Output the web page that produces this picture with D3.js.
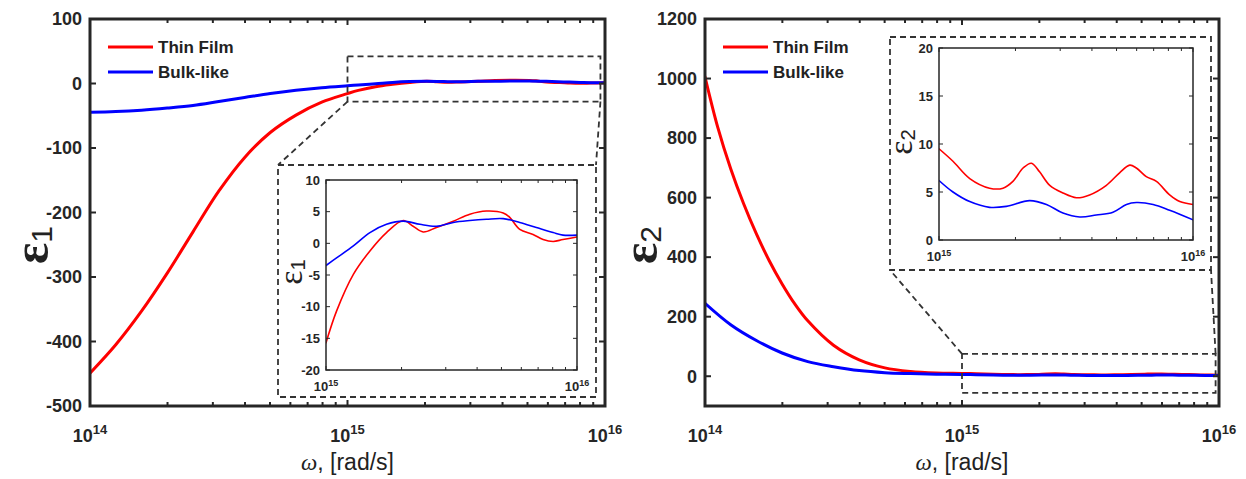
<!DOCTYPE html>
<html>
<head>
<meta charset="utf-8">
<script src="https://cdn.jsdelivr.net/npm/d3@7"></script>
<style>
  html, body { margin: 0; padding: 0; background: #fff; }
  svg { display: block; }
</style>
</head>
<body>
<svg id="chart" width="1246" height="479"></svg>
<script>
// ---------------- DATA ----------------
const seriesNames = ["Thin Film", "Bulk-like"];
const seriesColors = ["#ff0000", "#0000ff"];

// x tick exponents (omega = 10^exp, rad/s)
const mainXTickExponents = [14, 15, 16];
const insetXTickExponents = [15, 16];

// y ticks
const eps1YTicks = [-500, -400, -300, -200, -100, 0, 100];
const eps2YTicks = [0, 200, 400, 600, 800, 1000, 1200];
const eps1InsetYTicks = [-20, -15, -10, -5, 0, 5, 10];
const eps2InsetYTicks = [0, 5, 10, 15, 20];

// epsilon_1, Thin Film
const eps1ThinLogW = [14.0, 14.1, 14.2, 14.3, 14.4, 14.5, 14.6, 14.7, 14.8, 14.9,
  15.000, 15.042, 15.109, 15.175, 15.241, 15.308, 15.347, 15.387, 15.440, 15.507,
  15.573, 15.639, 15.706, 15.732, 15.772, 15.825, 15.865, 15.905, 15.944, 16.000];
const eps1ThinVals = [-449, -405, -353, -294, -230, -167, -115, -76, -49, -29,
  -15.7, -10.7, -4.9, -1.2, 1.7, 3.6, 2.7, 1.8, 2.5, 3.5,
  4.6, 5.1, 4.8, 4.1, 2.2, 1.4, 0.6, 0.3, 0.6, 1.0];

// epsilon_1, Bulk-like
const eps1BulkLogW = [14.0, 14.1, 14.2, 14.3, 14.4, 14.5, 14.6, 14.7, 14.8, 14.9,
  15.000, 15.042, 15.109, 15.175, 15.241, 15.308, 15.374, 15.440, 15.507, 15.573,
  15.639, 15.706, 15.772, 15.838, 15.905, 15.944, 16.000];
const eps1BulkVals = [-44.7, -43.5, -41.3, -38, -34, -28, -21.8, -15.5, -10.5, -6.5,
  -3.5, -2.3, -0.4, 1.7, 3.0, 3.5, 3.0, 2.7, 3.3, 3.6,
  3.8, 3.9, 3.3, 2.5, 1.7, 1.3, 1.3];

// epsilon_2, Thin Film
const eps2ThinLogW = [14.0, 14.05, 14.1, 14.15, 14.2, 14.25, 14.3, 14.35, 14.4, 14.5,
  14.6, 14.7, 14.8, 14.9,
  15.000, 15.055, 15.121, 15.199, 15.252, 15.291, 15.331, 15.364, 15.396, 15.436,
  15.488, 15.541, 15.593, 15.659, 15.711, 15.751, 15.777, 15.816, 15.856, 15.908,
  15.948, 16.000];
const eps2ThinVals = [1006, 835, 697, 580, 478, 388, 310, 242, 186, 104,
  55, 28, 16, 11,
  9.5, 8.2, 6.4, 5.4, 5.4, 6.1, 7.5, 8.0, 7.1, 5.7,
  4.9, 4.4, 4.7, 5.7, 7.0, 7.8, 7.5, 6.6, 6.1, 4.7,
  4.0, 3.7];

// epsilon_2, Bulk-like
const eps2BulkLogW = [14.0, 14.1, 14.2, 14.3, 14.4, 14.5, 14.6, 14.7, 14.8, 14.9,
  15.000, 15.055, 15.121, 15.199, 15.265, 15.357, 15.423, 15.488, 15.554, 15.619,
  15.685, 15.738, 15.777, 15.843, 15.908, 16.000];
const eps2BulkVals = [245, 173, 120, 78, 49, 32, 19, 12, 9, 7,
  6.2, 5.0, 4.0, 3.4, 3.5, 4.1, 3.7, 2.8, 2.4, 2.6,
  2.9, 3.7, 3.9, 3.7, 3.1, 2.1];

// ---------------- HELPERS ----------------
const svg = d3.select("#chart");
const AX = "#262626";
const SANS = "'Liberation Sans', Arial, Helvetica, sans-serif";
const SERIF = "'Liberation Serif', 'Times New Roman', serif";

function toPoints(logW, vals) {
  return logW.map((e, i) => ({ w: Math.pow(10, e), v: vals[i] }));
}
const isMajor = t => Math.abs(Math.log10(t) - Math.round(Math.log10(t))) < 1e-9;

let clipId = 0;
function drawAxes(g, x, y, yTicks, xExps, o) {
  const [x0, x1] = x.range();
  const [y1, y0] = y.range();
  const tk = g.append("g").attr("stroke", AX).attr("stroke-width", o.tickW);
  x.ticks().forEach(t => {
    const len = isMajor(t) ? o.majLen : o.minLen;
    const px = x(t);
    tk.append("line").attr("x1", px).attr("x2", px).attr("y1", y1).attr("y2", y1 - len);
    tk.append("line").attr("x1", px).attr("x2", px).attr("y1", y0).attr("y2", y0 + len);
  });
  yTicks.forEach(t => {
    const py = y(t);
    tk.append("line").attr("x1", x0).attr("x2", x0 + o.majLen).attr("y1", py).attr("y2", py);
    tk.append("line").attr("x1", x1).attr("x2", x1 - o.majLen).attr("y1", py).attr("y2", py);
  });
  g.append("rect").attr("x", x0).attr("y", y0).attr("width", x1 - x0).attr("height", y1 - y0)
    .attr("fill", "none").attr("stroke", AX).attr("stroke-width", o.frameW);
  yTicks.forEach(t => {
    g.append("text").attr("x", x0 - o.yLabGap).attr("y", y(t)).attr("dy", "0.35em")
      .attr("text-anchor", "end").attr("font-family", SANS).attr("font-weight", "bold")
      .attr("font-size", o.fs).attr("fill", AX).text(t);
  });
  xExps.forEach(e => {
    const t = g.append("text").attr("x", x(Math.pow(10, e))).attr("y", y1 + o.xLabGap)
      .attr("text-anchor", "middle").attr("font-family", SANS).attr("font-weight", "bold")
      .attr("font-size", o.fs).attr("fill", AX);
    t.append("tspan").text("10");
    t.append("tspan").attr("font-size", o.fsSup).attr("dy", -o.supShift).text(e);
  });
}

function drawCurves(g, x, y, data, width) {
  const [x0, x1] = x.range();
  const [y1, y0] = y.range();
  const id = "clip" + (clipId++);
  g.append("clipPath").attr("id", id).append("rect")
    .attr("x", x0).attr("y", y0).attr("width", x1 - x0).attr("height", y1 - y0);
  const line = d3.line().x(d => x(d.w)).y(d => y(d.v)).curve(d3.curveCatmullRom.alpha(0.5));
  const cg = g.append("g").attr("clip-path", `url(#${id})`);
  data.forEach((pts, i) => {
    cg.append("path").attr("d", line(pts)).attr("fill", "none")
      .attr("stroke", seriesColors[i]).attr("stroke-width", width)
      .attr("stroke-linejoin", "round").attr("stroke-linecap", "round");
  });
}

function epsLabel(g, cx, cy, sub, fs, bold) {
  const t = g.append("text").attr("transform", `translate(${cx},${cy}) rotate(-90)`)
    .attr("text-anchor", "middle").attr("font-family", SERIF).attr("fill", "#222")
    .attr("font-size", fs);
  t.append("tspan").attr("font-weight", bold ? "bold" : "normal").text("ε");
  t.append("tspan").attr("font-size", fs * 0.6).attr("font-family", SANS)
    .attr("dy", fs * 0.08).text(sub);
}

function drawPanel(cfg) {
  const g = svg.append("g");
  const x = d3.scaleLog().domain([1e14, 1e16]).range([cfg.x0, cfg.x1]);
  const y = d3.scaleLinear().domain(cfg.yDomain).range([cfg.y1, cfg.y0]);
  const full = cfg.series.map(s => toPoints(s[0], s[1]));

  drawCurves(g, x, y, full, 3);
  drawAxes(g, x, y, cfg.yTicks, mainXTickExponents,
    { tickW: 2, majLen: 6, minLen: 4, frameW: 3, fs: 18, fsSup: 13, supShift: 8, yLabGap: 8, xLabGap: 36 });

  const xl = g.append("text").attr("x", (cfg.x0 + cfg.x1) / 2).attr("y", 470)
    .attr("text-anchor", "middle").attr("font-size", 23).attr("fill", "#222")
    .attr("font-family", SANS);
  xl.append("tspan").attr("font-family", SERIF).attr("font-style", "italic").text("ω");
  xl.append("tspan").text(", [rad/s]");

  epsLabel(g, cfg.yLabX, cfg.yLabY, cfg.sub, 50, true);

  seriesNames.forEach((n, i) => {
    const ly = 47 + i * 25;
    g.append("line").attr("x1", cfg.x0 + 18).attr("x2", cfg.x0 + 63).attr("y1", ly).attr("y2", ly)
      .attr("stroke", seriesColors[i]).attr("stroke-width", 3);
    g.append("text").attr("x", cfg.x0 + 68).attr("y", ly).attr("dy", "0.36em")
      .attr("font-family", SANS).attr("font-weight", "bold").attr("font-size", 17)
      .attr("fill", "#222").text(n);
  });

  const zr = cfg.zoomRect;
  const rx0 = x(zr.w[0]), rx1 = x(zr.w[1]), ry0 = y(zr.v[1]), ry1 = y(zr.v[0]);
  const dash = { stroke: "#333", "stroke-width": 1.8, "stroke-dasharray": "6,4", fill: "none" };
  const applyDash = sel => { Object.entries(dash).forEach(([k, v]) => sel.attr(k, v)); return sel; };
  applyDash(g.append("rect").attr("x", rx0).attr("y", ry0).attr("width", rx1 - rx0).attr("height", ry1 - ry0));

  const ib = cfg.insetOuter;
  const ig = g.append("g");
  ig.append("rect").attr("x", ib.x0).attr("y", ib.y0).attr("width", ib.x1 - ib.x0).attr("height", ib.y1 - ib.y0)
    .attr("fill", "#fff");
  applyDash(ig.append("rect").attr("x", ib.x0).attr("y", ib.y0).attr("width", ib.x1 - ib.x0).attr("height", ib.y1 - ib.y0));

  cfg.connectors(rx0, rx1, ry0, ry1, ib).forEach(c => {
    applyDash(g.append("line").attr("x1", c[0]).attr("y1", c[1]).attr("x2", c[2]).attr("y2", c[3]));
  });

  const ia = cfg.insetAxes;
  const xi = d3.scaleLog().domain([1e15, 1e16]).range([ia.x0, ia.x1]);
  const yi = d3.scaleLinear().domain(cfg.insetYDomain).range([ia.y1, ia.y0]);
  const inset = cfg.series.map(s => toPoints(s[0], s[1]).filter(d => d.w >= 1e15 * 0.999));
  drawCurves(ig, xi, yi, inset, 1.6);
  drawAxes(ig, xi, yi, cfg.insetYTicks, insetXTickExponents,
    { tickW: 1, majLen: 4, minLen: 3, frameW: 1.5, fs: 13, fsSup: 9, supShift: 5, yLabGap: 6, xLabGap: 21 });
  epsLabel(ig, cfg.insetLabX, cfg.insetLabY, cfg.sub, 34, false);
}

// ---------------- PANELS ----------------
drawPanel({
  x0: 90, x1: 605, y0: 19, y1: 406,
  yDomain: [-500, 100], yTicks: eps1YTicks, sub: "1",
  yLabX: 48, yLabY: 245,
  series: [[eps1ThinLogW, eps1ThinVals], [eps1BulkLogW, eps1BulkVals]],
  zoomRect: { w: [1e15, 9.6e15], v: [-28, 42] },
  insetOuter: { x0: 278, x1: 596, y0: 165, y1: 397 },
  insetAxes: { x0: 326, x1: 577, y0: 180, y1: 370 },
  insetYDomain: [-20, 10], insetYTicks: eps1InsetYTicks,
  insetLabX: 302, insetLabY: 272,
  connectors: (rx0, rx1, ry0, ry1, ib) => [[rx0, ry1, ib.x0, ib.y0], [rx1, ry1, ib.x1, ib.y0]]
});

drawPanel({
  x0: 705, x1: 1219, y0: 19, y1: 406,
  yDomain: [-100, 1200], yTicks: eps2YTicks, sub: "2",
  yLabX: 657, yLabY: 245,
  series: [[eps2ThinLogW, eps2ThinVals], [eps2BulkLogW, eps2BulkVals]],
  zoomRect: { w: [1e15, 9.7e15], v: [-56, 75] },
  insetOuter: { x0: 890, x1: 1211, y0: 37, y1: 270 },
  insetAxes: { x0: 939, x1: 1193, y0: 48, y1: 240 },
  insetYDomain: [0, 20], insetYTicks: eps2InsetYTicks,
  insetLabX: 912, insetLabY: 142,
  connectors: (rx0, rx1, ry0, ry1, ib) => [[rx0, ry0, ib.x0, ib.y1], [rx1, ry0, ib.x1, ib.y1]]
});
</script>
</body>
</html>
